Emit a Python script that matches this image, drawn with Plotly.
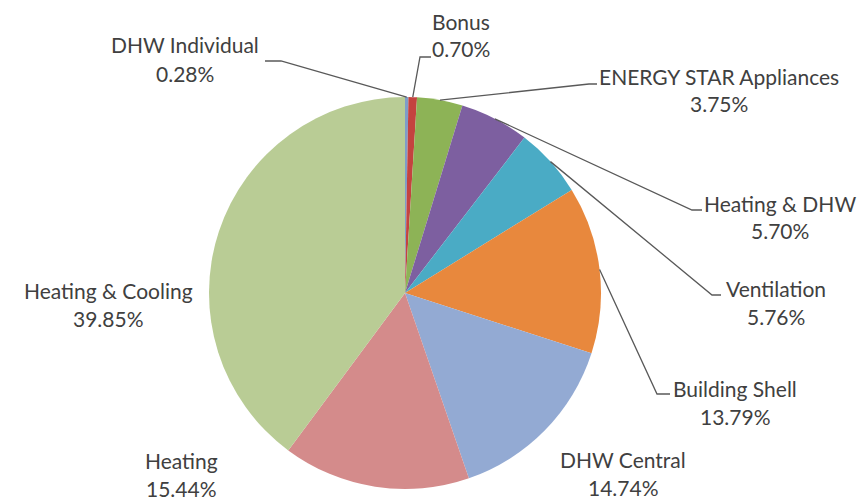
import math
import plotly.graph_objects as go

# Share of savings by measure category (percent), clockwise from 12 o'clock
categories = [
    "DHW Individual", "Bonus", "ENERGY STAR Appliances", "Heating & DHW",
    "Ventilation", "Building Shell", "DHW Central", "Heating", "Heating & Cooling",
]
shares = [0.28, 0.70, 3.75, 5.70, 5.76, 13.79, 14.74, 15.44, 39.85]
colors = [
    "#7E9DC8", "#C4433F", "#8DB356", "#7D5FA0", "#4AABC5",
    "#E8883D", "#93AAD3", "#D48B8B", "#B9CC95",
]

W, H = 860, 500
CX, CY, R = 405, 293, 196          # pie centre and radius in pixels

def px(x):
    return x / W

def py(y):
    return 1 - y / H

fig = go.Figure(go.Pie(
    labels=categories,
    values=shares,
    sort=False,
    direction="clockwise",
    rotation=0,
    marker=dict(colors=colors, line=dict(width=0)),
    textinfo="none",
    hoverinfo="label+percent",
    showlegend=False,
    domain=dict(x=[px(CX - R), px(CX + R)], y=[py(CY + R), py(CY - R)]),
))

# Label placement: (centre x, first-line y) in pixels, and leader elbow/end points
label_pos = {
    "DHW Individual": (185, 45),
    "Bonus": (461, 21),
    "ENERGY STAR Appliances": (719, 76),
    "Heating & DHW": (780, 203),
    "Ventilation": (776, 288),
    "Building Shell": (735, 388),
    "DHW Central": (623, 459),
    "Heating": (181, 460),
    "Heating & Cooling": (108, 290),
}
leaders = {
    "DHW Individual": ((281, 61), (265, 61)),
    "Bonus": ((420, 57), (431, 57)),
    "ENERGY STAR Appliances": ((589, 84), (597, 84)),
    "Heating & DHW": ((692, 210), (702, 210)),
    "Ventilation": ((712, 295), (721, 295)),
    "Building Shell": ((657, 394), (670, 394)),
}

total = sum(shares)
cum = 0.0
mid_angle = {}
for name, v in zip(categories, shares):
    mid_angle[name] = (cum + v / 2) / total * 2 * math.pi
    cum += v

font = dict(family="Lato, 'Open Sans', sans-serif", size=21, color="#404040")
LINE_GAP = 28

for name, v in zip(categories, shares):
    lx, ly = label_pos[name]
    fig.add_annotation(x=px(lx), y=py(ly), xref="paper", yref="paper",
                       text=name, showarrow=False, font=font,
                       xanchor="center", yanchor="middle")
    fig.add_annotation(x=px(lx), y=py(ly + LINE_GAP), xref="paper", yref="paper",
                       text=f"{v:.2f}%", showarrow=False, font=font,
                       xanchor="center", yanchor="middle")
    if name in leaders:
        a = mid_angle[name]
        ex, ey = CX + R * math.sin(a), CY - R * math.cos(a)
        (bx, by), (tx, ty) = leaders[name]
        path = (f"M {px(ex)} {py(ey)} L {px(bx)} {py(by)} L {px(tx)} {py(ty)}")
        fig.add_shape(type="path", path=path, xref="paper", yref="paper",
                      line=dict(color="#595959", width=1.3))

fig.update_layout(
    width=W, height=H,
    margin=dict(l=0, r=0, t=0, b=0),
    paper_bgcolor="white",
    plot_bgcolor="white",
)

fig.write_html("out.html")
